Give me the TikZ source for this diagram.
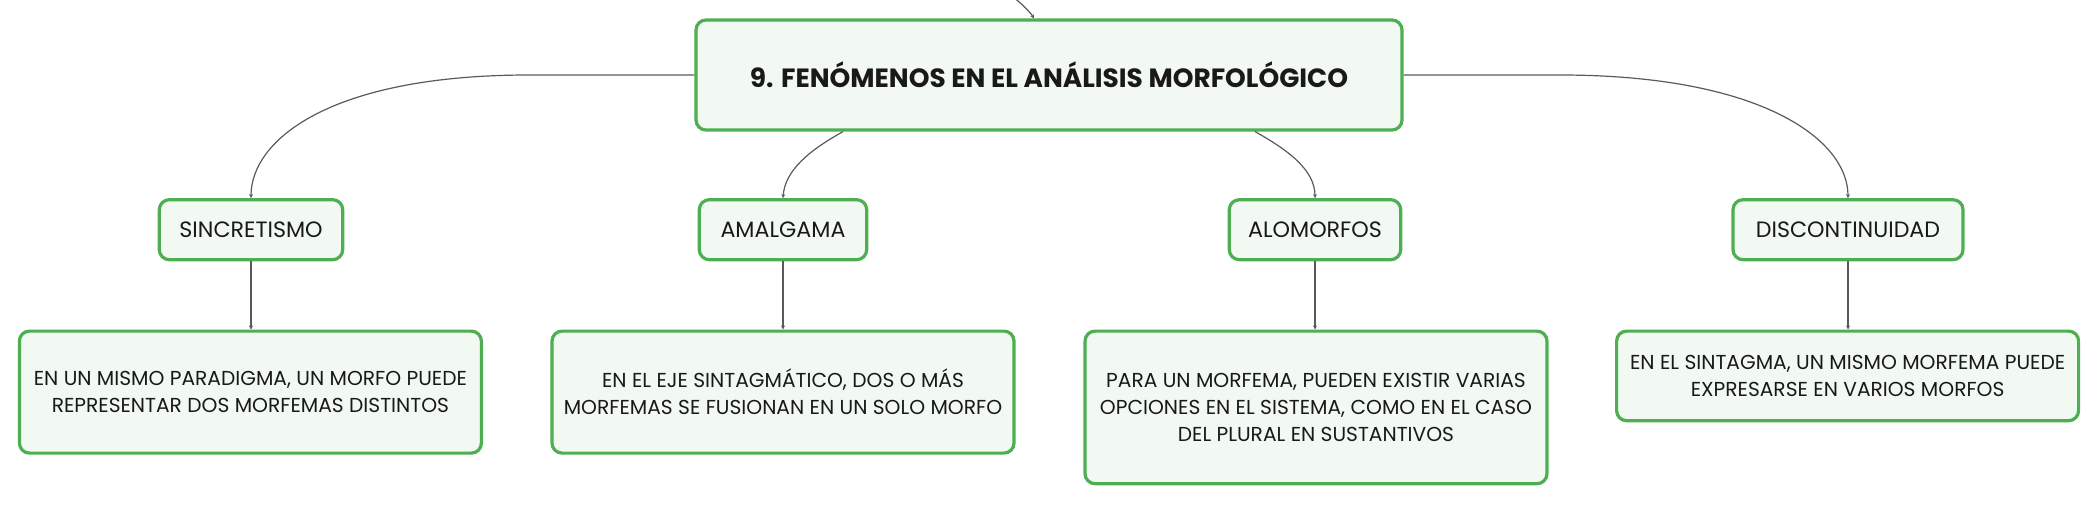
\documentclass[tikz,border=0pt]{standalone}
\usepackage{fontspec}
\setmainfont{Poppins}
\usetikzlibrary{arrows.meta}
\usepackage{xcolor}
\definecolor{mapgreen}{RGB}{77,175,82}
\definecolor{mapfill}{RGB}{241,249,242}
\definecolor{mapline}{RGB}{90,90,90}
\definecolor{maptext}{RGB}{25,25,25}
\tikzset{
  topic/.style={draw=mapgreen, line width=1.6pt, fill=mapfill, rounded corners=5pt,
    text=maptext, align=center, inner sep=0pt},
  maintopic/.style={topic, minimum width=353pt, minimum height=55pt,
    font=\bfseries\fontsize{13.2}{16}\selectfont},
  subtopic/.style={topic, minimum height=30pt, font=\fontsize{11.1}{13}\selectfont},
  note/.style={topic, anchor=north, minimum width=231pt, font=\fontsize{10.1}{13.4}\selectfont},
  link/.style={draw=mapline, line width=0.6pt, -{Stealth[length=2pt,width=2pt]}}
}
\begin{document}
\begin{tikzpicture}[x=0.5pt,y=-0.5pt]
\useasboundingbox (0,0) rectangle (2100,504);
% main topic
\node[maintopic] (root) at (1049,75) {9. FENÓMENOS EN EL ANÁLISIS MORFOLÓGICO};
\coordinate (parent) at (1012,-4);
\draw[link] (parent) .. controls (1022,4) and (1030,12) .. (root.north -| 1034,0);
% sub topics
\node[subtopic, minimum width=91.7pt] (sinc) at (251,229.7) {SINCRETISMO};
\node[subtopic, minimum width=83.7pt] (amal) at (783,229.7) {AMALGAMA};
\node[subtopic, minimum width=85.7pt] (alom) at (1315,229.7) {ALOMORFOS};
\node[subtopic, minimum width=115pt] (disc) at (1848,229.7) {DISCONTINUIDAD};
% notes
\node[note, minimum height=61pt] (nsinc) at (250.4,329.5) {EN UN MISMO PARADIGMA, UN MORFO PUEDE\\REPRESENTAR DOS MORFEMAS DISTINTOS};
\node[note, minimum height=61pt] (namal) at (783,329.5) {EN EL EJE SINTAGMÁTICO, DOS O MÁS\\MORFEMAS SE FUSIONAN EN UN SOLO MORFO};
\node[note, minimum height=76.3pt] (nalom) at (1316,329.5) {PARA UN MORFEMA, PUEDEN EXISTIR VARIAS\\OPCIONES EN EL SISTEMA, COMO EN EL CASO\\DEL PLURAL EN SUSTANTIVOS};
\node[note, minimum height=44.8pt] (ndisc) at (1847.6,329.5) {EN EL SINTAGMA, UN MISMO MORFEMA PUEDE\\EXPRESARSE EN VARIOS MORFOS};
% links from the main topic
\draw[link] (root.west) -- (529,75) .. controls (330,75) and (251,140) .. (sinc.north);
\draw[link] (root.east) -- (1560,75) .. controls (1762,75) and (1848,140) .. (disc.north);
\draw[link] (root.south -| 843,0) .. controls (810,150) and (785,170) .. (amal.north);
\draw[link] (root.south -| 1255,0) .. controls (1288,150) and (1315,170) .. (alom.north);
% links to the notes
\foreach \s in {sinc,amal,alom,disc}
  \draw[link] (\s.south) -- (\s.south |- n\s.north);
\end{tikzpicture}
\end{document}
